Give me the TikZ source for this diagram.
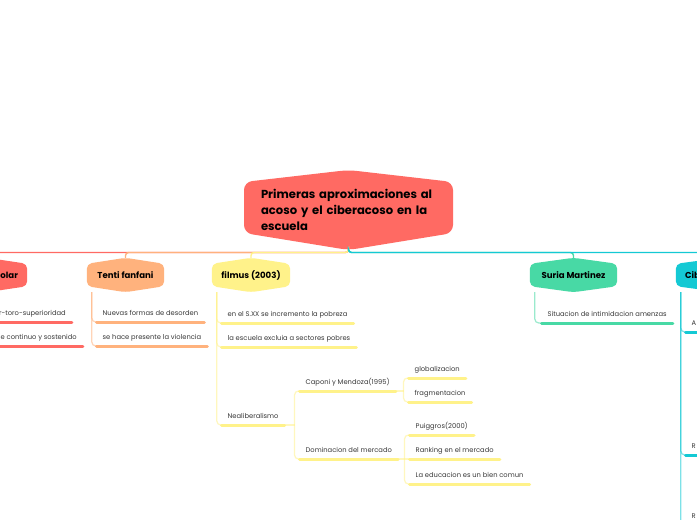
\documentclass[tikz,border=0pt]{standalone}
\usepackage{fontspec}
\setmainfont{Poppins}
\usetikzlibrary{backgrounds,calc}
\definecolor{cRed}{HTML}{FF6A63}
\definecolor{cOrange}{HTML}{FFB27D}
\definecolor{cYellow}{HTML}{FFF28A}
\definecolor{cGreen}{HTML}{48D9A5}
\definecolor{cCyan}{HTML}{14C9D4}
\newcommand\hexfillnode[5]{%
  \begin{scope}[on background layer]
    \fill[#2, rounded corners=#5] ([yshift=-#3]#1.north west) -- (#1.north) -- ([yshift=-#3]#1.north east) -- ([yshift=#4]#1.south east) -- (#1.south) -- ([yshift=#4]#1.south west) -- cycle;
  \end{scope}}
\begin{document}
\begin{tikzpicture}[x=1pt,y=-1pt,
  title/.style={font=\fontsize{8.6}{9}\selectfont\bfseries, text=black, inner sep=0pt, minimum height=34pt},
  leaf/.style={anchor=south west, inner xsep=6pt, inner ysep=0pt, text height=5pt, text depth=6pt, font=\fontsize{6.75}{7}\selectfont, text=black!78},
  mainline/.style={line width=1.4pt, rounded corners=3pt},
  subline/.style={line width=1.2pt, rounded corners=4pt, opacity=0.55},
  uline/.style={line width=3pt, line cap=round}]

\useasboundingbox (0,0) rectangle (697,520);
\begin{scope}[on background layer]
\fill[white] (0,0) rectangle (697,520);
\end{scope}
\clip (0,0) rectangle (697,520);

% root
\node[font=\fontsize{11.6}{16}\selectfont\bfseries, text width=181pt, align=left, inner xsep=17pt, inner ysep=0pt, minimum width=209pt, minimum height=80pt] (root) at (351.5,210) {Primeras aproximaciones al\\acoso y el ciberacoso en la\\escuela};

% main topics
\node[title, minimum width=80pt, text width=62pt, align=right, inner xsep=9pt] (acoso) at (-13,275) {olar};
\node[title, minimum width=77pt] (tenti) at (125.5,275) {Tenti fanfani};
\node[title, minimum width=78pt] (filmus) at (251,275) {filmus (2003)};
\node[title, minimum width=87pt] (suria) at (573.5,275) {Suria Martinez};
\node[title, minimum width=90pt, text width=72pt, align=left, inner xsep=9pt] (cib) at (721,275) {Cib};

\coordinate (rootbot) at (348.5,250);
\begin{scope}[on background layer]
\fill[cRed, rounded corners=8pt] (244,182) -- (348.5,170) -- (453,182) -- (453,233) -- (rootbot) -- (244,233) -- cycle;
\end{scope}
\hexfillnode{acoso}{cRed}{6pt}{6pt}{5pt}
\hexfillnode{tenti}{cOrange}{6pt}{6pt}{5pt}
\hexfillnode{filmus}{cYellow}{6pt}{6pt}{5pt}
\hexfillnode{suria}{cGreen}{6pt}{6pt}{5pt}
\hexfillnode{cib}{cCyan}{6pt}{6pt}{5pt}

% main connectors
\draw[mainline,cRed] (rootbot) -- ++(0,2.5) -| (acoso.north);
\draw[mainline,cOrange] (rootbot) -- ++(0,2.5) -| (tenti.north);
\draw[mainline,cYellow] (rootbot) -- ++(0,2.5) -| (filmus.north);
\draw[mainline,cGreen] (rootbot) -- ++(0,2.5) -| (suria.north);
\draw[mainline,cCyan] (rootbot) -- ++(0,2.5) -| (cib.north);

% leaves
\node[leaf] (toro) at (-7,322) {r-toro-superioridad};
\node[leaf] (cont) at (-5.5,346) {e continuo y sostenido};
\node[leaf] (nuevas) at (96.5,322) {Nuevas formas de desorden};
\node[leaf] (sehace) at (96.5,346) {se hace presente la violencia};
\node[leaf] (en) at (221.5,323) {en el S.XX se incremento la pobreza};
\node[leaf] (la) at (221.5,347) {la escuela excluia a sectores pobres};
\node[leaf] (neo) at (221.5,425) {Nealiberalismo};
\node[leaf] (caponi) at (299.5,391) {Caponi y Mendoza(1995)};
\node[leaf] (domin) at (299.5,459) {Dominacion del mercado};
\node[leaf] (glob) at (408.5,378) {globalizacion};
\node[leaf] (frag) at (408.5,402) {fragmentacion};
\node[leaf] (puig) at (409.5,435) {Puiggros(2000)};
\node[leaf] (rank) at (409.5,459) {Ranking en el mercado};
\node[leaf] (educ) at (409.5,484) {La educacion es un bien comun};
\node[leaf] (sit) at (541.5,323) {Situacion de intimidacion amenzas};
\node[leaf, text width=30pt, align=left] (ca) at (685.5,332) {A};
\node[leaf, text width=30pt, align=left] (cr1) at (685.5,455) {R};
\node[leaf, text width=30pt, align=left] (cr2) at (685.5,525) {R};

% sub connectors
\draw[subline,cRed] ([xshift=5pt]acoso.south west) |- (toro.south west);
\draw[subline,cRed] ([xshift=5pt]acoso.south west) |- (cont.south west);
\draw[subline,cOrange] ([xshift=5pt]tenti.south west) |- (nuevas.south west);
\draw[subline,cOrange] ([xshift=5pt]tenti.south west) |- (sehace.south west);
\draw[subline,cYellow] ([xshift=5pt]filmus.south west) |- (en.south west);
\draw[subline,cYellow] ([xshift=5pt]filmus.south west) |- (la.south west);
\draw[subline,cYellow] ([xshift=5pt]filmus.south west) |- (neo.south west);
\coordinate (neoj) at ($(caponi.south west |- neo.south east)+(-5,0)$);
\draw[subline,cYellow] (neo.south east) -- (neoj);
\draw[subline,cYellow] (caponi.south west) -| (neoj) |- (domin.south west);
\coordinate (capj) at ($(glob.south west |- caponi.south east)+(-5,0)$);
\draw[subline,cYellow] (caponi.south east) -- (capj);
\draw[subline,cYellow] (glob.south west) -| (capj) |- (frag.south west);
\coordinate (domj) at ($(puig.south west |- domin.south east)+(-5,0)$);
\draw[subline,cYellow] (domin.south east) -- (domj);
\draw[subline,cYellow] (puig.south west) -| (domj) |- (educ.south west);
\draw[subline,cYellow] (domj) -- (rank.south west);
\draw[subline,cGreen] ([xshift=5pt]suria.south west) |- (sit.south west);
\draw[subline,cCyan] ([xshift=5pt]cib.south west) |- (ca.south west);
\draw[subline,cCyan] ([xshift=5pt]cib.south west) |- (cr1.south west);
\draw[subline,cCyan] ([xshift=5pt]cib.south west) |- (cr2.south west);

% underlines
\foreach \n/\c in {toro/cRed, cont/cRed, nuevas/cOrange, sehace/cOrange, en/cYellow, la/cYellow, neo/cYellow, caponi/cYellow, domin/cYellow, glob/cYellow, frag/cYellow, puig/cYellow, rank/cYellow, educ/cYellow, sit/cGreen, ca/cCyan, cr1/cCyan, cr2/cCyan}
  \draw[uline,\c] (\n.south west) -- (\n.south east);
\end{tikzpicture}
\end{document}
